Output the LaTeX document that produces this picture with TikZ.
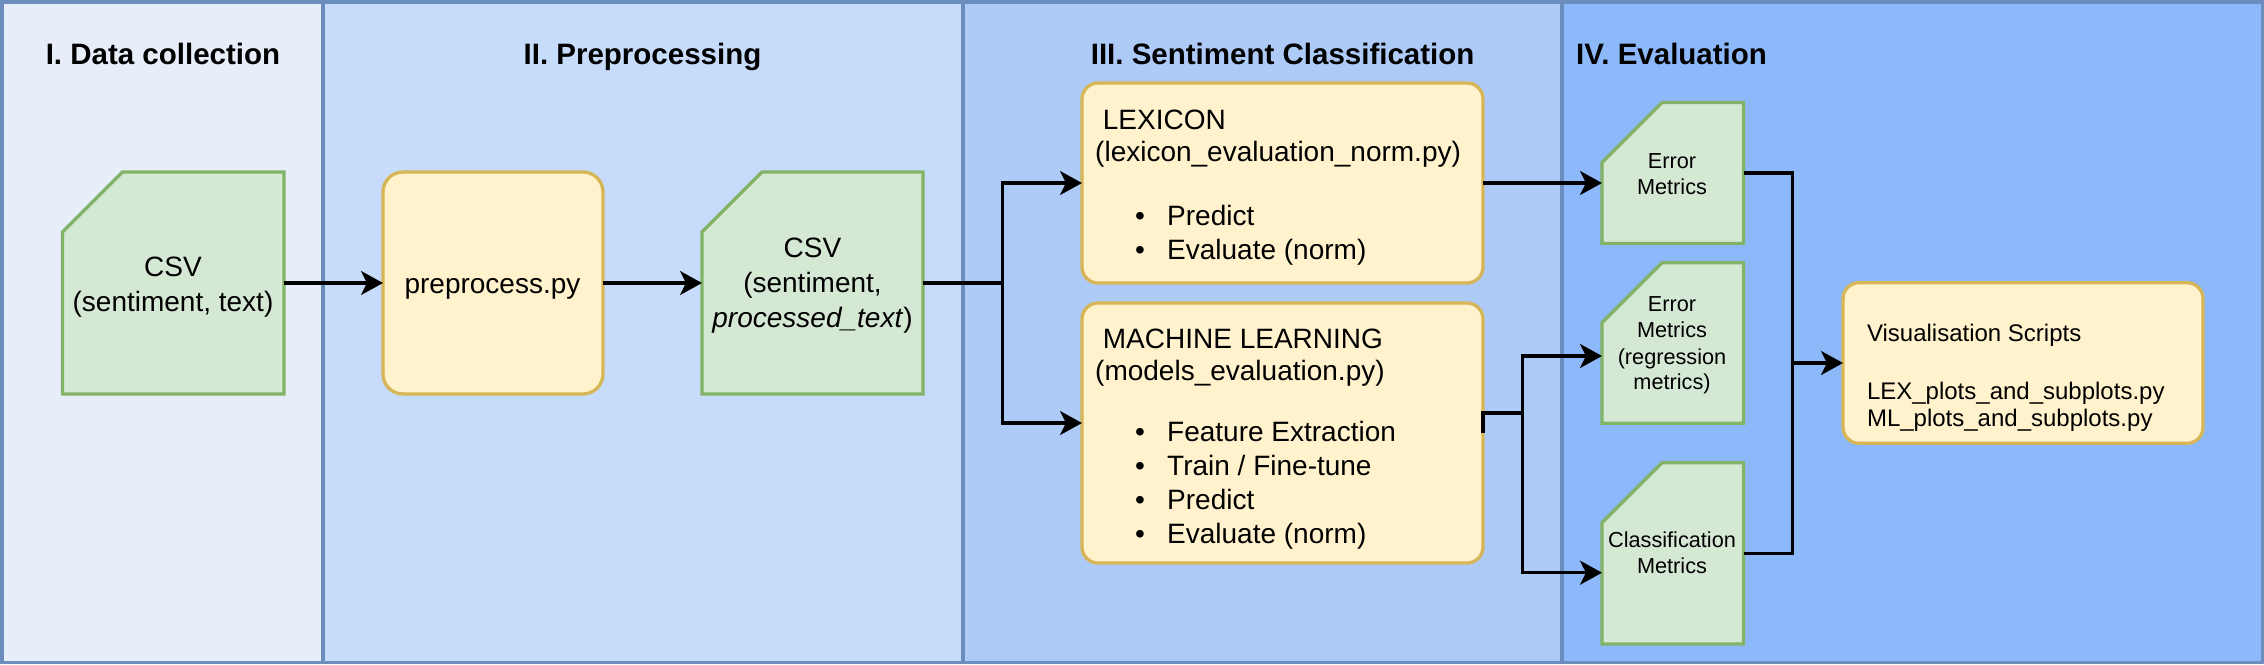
\documentclass[tikz,border=0pt]{standalone}
\usepackage{fontspec}
\setmainfont{Liberation Sans}
\usetikzlibrary{arrows.meta}
\definecolor{laneA}{HTML}{E8EEF9}
\definecolor{laneB}{HTML}{C6DCFA}
\definecolor{laneC}{HTML}{AECBF8}
\definecolor{laneD}{HTML}{8DB8F9}
\definecolor{laneStroke}{HTML}{6C8EBF}
\definecolor{cardFill}{HTML}{D5E8D4}
\definecolor{cardStroke}{HTML}{82B366}
\definecolor{procFill}{HTML}{FFF2CC}
\definecolor{procStroke}{HTML}{D6B656}
\newcommand\drawcard[1]{\draw[cardline] ([yshift=-60pt]#1.north west) -- ([xshift=60pt]#1.north west) -- (#1.north east) -- (#1.south east) -- (#1.south west) -- cycle;}
\tikzset{
  lane/.style={draw=laneStroke, line width=3.5pt},
  cardbox/.style={inner sep=0pt, outer sep=0pt},
  cardline/.style={draw=cardStroke, fill=cardFill, line width=3.3pt},
  procbox/.style={draw=procStroke, fill=procFill, line width=3.3pt, rounded corners=16pt, inner sep=0pt, outer sep=0pt},
  conn/.style={line width=3.2pt, black},
  arr/.style={conn, -{Stealth[length=22pt,width=24pt,inset=6pt]}},
  title/.style={font=\fontsize{29.5}{35}\selectfont\bfseries, inner sep=0pt, anchor=base},
  big/.style={font=\fontsize{28}{34}\selectfont, inner sep=0pt, anchor=base},
  bigw/.style={big, anchor=base west},
  small/.style={font=\fontsize{21.7}{26}\selectfont, inner sep=0pt, anchor=base},
  mid/.style={font=\fontsize{24}{29}\selectfont, inner sep=0pt, anchor=base west}
}
\begin{document}
\begin{tikzpicture}[x=1pt,y=-1pt]
\useasboundingbox (0,0) rectangle (2264,664);
% lanes
\draw[lane, fill=laneA] (1.75,1.75) rectangle (323,662.25);
\draw[lane, fill=laneB] (323,1.75) rectangle (963,662.25);
\draw[lane, fill=laneC] (963,1.75) rectangle (1562,662.25);
\draw[lane, fill=laneD] (1562,1.75) rectangle (2262.25,662.25);
% titles
\node[title] (ttlA) at (163,64.5) {I. Data collection};
\node[title] (ttlB) at (642.5,64.5) {II. Preprocessing};
\node[title] (ttlC) at (1282.6,64.5) {III. Sentiment Classification};
\node[title, anchor=base west] (ttlD) at (1576,64.5) {IV. Evaluation};
% shapes
\node[cardbox, minimum width=221.5pt, minimum height=222pt] (csvA) at (173.25,283) {};
\drawcard{csvA}
\node[procbox, rounded corners=20pt, minimum width=220pt, minimum height=222pt] (prep) at (493,283) {};
\node[cardbox, minimum width=221pt, minimum height=222pt] (csvB) at (812.5,283) {};
\drawcard{csvB}
\node[procbox, minimum width=401pt, minimum height=200pt] (lex) at (1282.5,183) {};
\node[procbox, minimum width=401pt, minimum height=260pt] (ml) at (1282.5,433) {};
\node[cardbox, minimum width=141.5pt, minimum height=141pt] (em1) at (1672.75,173) {};
\drawcard{em1}
\node[cardbox, minimum width=141.5pt, minimum height=160.6pt] (em2) at (1672.75,343) {};
\drawcard{em2}
\node[cardbox, minimum width=141.5pt, minimum height=181.3pt] (cls) at (1672.75,553.3) {};
\drawcard{cls}
\node[procbox, minimum width=360pt, minimum height=160.6pt] (vis) at (2023,363) {};
% texts
\node[big] (csvAa) at (173,276.7) {CSV};
\node[big] (csvAb) at (173,311) {(sentiment, text)};
\node[big] (prepa) at (492.5,293) {preprocess.py};
\node[big] (csvBa) at (812.5,257.5) {CSV};
\node[big] (csvBb) at (812.5,292.5) {(sentiment,};
\node[big] (csvBc) at (812.5,327.5) {\textit{processed\_text})};
\node[bigw] (lexa) at (1102.7,129.3) {LEXICON};
\node[bigw] (lexb) at (1095,161.7) {(lexicon\_evaluation\_norm.py)};
\node[bigw] (lexc) at (1135,225) {\makebox[32pt][l]{•}Predict};
\node[bigw] (lexd) at (1135,259) {\makebox[32pt][l]{•}Evaluate (norm)};
\node[bigw] (mla) at (1102.7,348.3) {MACHINE LEARNING};
\node[bigw] (mlb) at (1095,380.7) {(models\_evaluation.py)};
\node[bigw] (mlc) at (1135,441.7) {\makebox[32pt][l]{•}Feature Extraction};
\node[bigw] (mld) at (1135,475.7) {\makebox[32pt][l]{•}Train / Fine-tune};
\node[bigw] (mle) at (1135,509.3) {\makebox[32pt][l]{•}Predict};
\node[bigw] (mlf) at (1135,543.3) {\makebox[32pt][l]{•}Evaluate (norm)};
\node[small] (em1a) at (1672,168.3) {Error};
\node[small] (em1b) at (1672,194) {Metrics};
\node[small] (em2a) at (1672,311.7) {Error};
\node[small] (em2b) at (1672,337.7) {Metrics};
\node[small] (em2c) at (1672,364) {(regression};
\node[small] (em2d) at (1672,389.3) {metrics)};
\node[small] (clsa) at (1672,547.3) {Classification};
\node[small] (clsb) at (1672,573.3) {Metrics};
\node[mid] (visa) at (1866.8,341.7) {Visualisation Scripts};
\node[mid] (visb) at (1866.8,399.3) {LEX\_plots\_and\_subplots.py};
\node[mid] (visc) at (1866.8,426.7) {ML\_plots\_and\_subplots.py};
% connectors
\coordinate (split) at (1002.7,283);
\coordinate (mlsplit) at (1522.7,413);
\coordinate (merge) at (1792.5,363);
\draw[arr] (csvA.east) -- (prep.west);
\draw[arr] (prep.east) -- (csvB.west);
\draw[conn] (csvB.east) -- (split);
\draw[arr] (split) |- (lex.west);
\draw[arr] (split) |- ([yshift=10pt]ml.west);
\draw[arr] (lex.east) -- (lex.east -| em1.west);
\draw[conn] (ml.east) -- (ml.east |- mlsplit) -- (mlsplit);
\draw[arr] (mlsplit) |- ([yshift=-13pt]em2.west);
\draw[arr] (mlsplit) |- ([yshift=-19.4pt]cls.west);
\draw[conn] (em1.east) -| (merge);
\draw[conn] (cls.east) -| (merge);
\draw[arr] (merge) -- (vis.west);
\end{tikzpicture}
\end{document}
